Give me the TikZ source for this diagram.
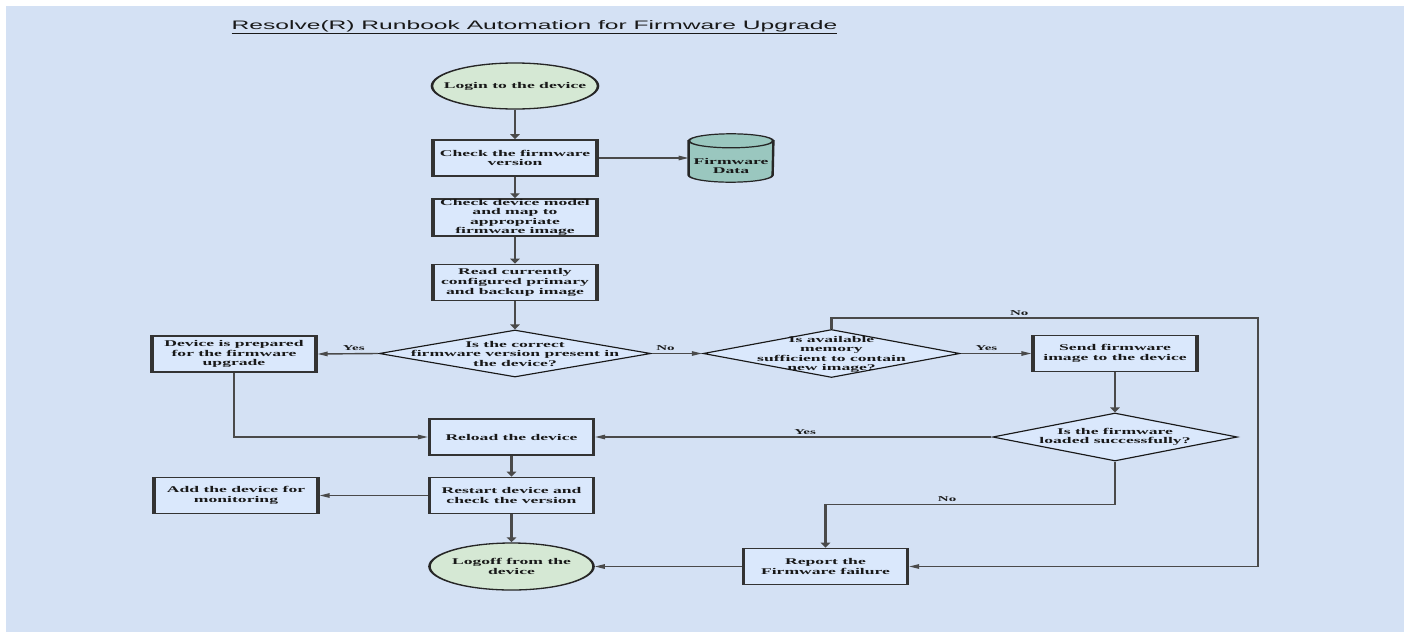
\documentclass[tikz,border=0pt]{standalone}
\usepackage{fontspec}
\setmainfont{Liberation Serif}
\setsansfont{Liberation Sans}
\usetikzlibrary{arrows.meta,shapes.geometric}

\definecolor{pagebg}{HTML}{D4E1F4}
\definecolor{boxfill}{HTML}{DAE8FC}
\definecolor{termfill}{HTML}{D5E8D4}
\definecolor{dbfill}{HTML}{9AC7BF}
\definecolor{linegray}{HTML}{4A4A4A}

\newcommand{\flowfont}{\fontsize{8.8}{9.6}\selectfont\bfseries}
\newcommand{\yesnofont}{\fontsize{7.5}{8}\selectfont\bfseries}
\newcommand{\headfont}{\sffamily\fontsize{12.3}{14}\selectfont}

\tikzset{
    stepbox/.style={draw=black!80, line width=1.6pt, fill=boxfill,
        minimum width=82pt, minimum height=36pt, inner sep=0pt,
        align=center, font=\flowfont, text=black!90},
    term/.style={ellipse, draw=black!85, line width=1.3pt, fill=termfill,
        minimum width=83pt, minimum height=46pt, inner sep=0pt},
    decision/.style={diamond, draw=black!90, line width=1.1pt, fill=boxfill,
        minimum width=136pt, minimum height=48pt, inner sep=0pt},
    store/.style={minimum width=42pt, minimum height=48pt, inner sep=0pt},
    dbshape/.style={draw=black!85, line width=1.2pt, fill=dbfill},
    flowtext/.style={align=center, font=\flowfont, text=black!90, inner sep=0pt},
    lbl/.style={font=\yesnofont, text=black!90, inner sep=2pt},
    flow/.style={draw=linegray, line width=1.4pt,
        -{Triangle[length=5pt,width=4.5pt]}}
}

\begin{document}
\begin{tikzpicture}[x=1pt,y=-1pt]
    % Page
    \fill[white] (0,0) rectangle (1404,632);
    \fill[pagebg] (6,6) rectangle (1404,632);
    \useasboundingbox (0,0) rectangle (1404,632);

    \begin{scope}[transform canvas={xscale=2}, x=0.5pt]
    % Title
    \node[anchor=base, font=\headfont, text=black!90] (title) at (534.5,29)
        {\underline{Resolve(R) Runbook Automation for Firmware Upgrade}};

    % Main column
    \node[term] (login) at (515,86) {};
    \node[flowtext] (logintext) at (login) {Login to the device};
    \node[stepbox] (checkfw) at (515,158) {Check the firmware\\version};
    % Firmware store (cylinder)
    \node[store] (fwdata) at (731,158) {};
    \draw[dbshape] ([yshift=-7pt]fwdata.north west) -- ([yshift=7pt]fwdata.south west)
        arc[start angle=180, end angle=360, x radius=21pt, y radius=7pt]
        -- ([yshift=-7pt]fwdata.north east) -- cycle;
    \draw[dbshape] ([yshift=-7pt]fwdata.north) ellipse [x radius=21pt, y radius=7pt];
    \node[flowtext] (fwdatatext) at (731,166) {Firmware\\Data};
    \node[stepbox] (model) at (515,217.5) {Check device model\\and map to\\appropriate\\firmware image};
    \node[stepbox] (readimg) at (515,282.5) {Read currently\\configured primary\\and backup image};

    % Decisions
    \node[decision, minimum height=47pt] (fwok) at (515,353.5) {};
    \node[flowtext] (fwoktext) at (515,354) {Is the correct\\firmware version present in\\the device?};
    \node[stepbox] (prepared) at (234,354) {Device is prepared\\for the firmware\\upgrade};
    \node[decision, minimum width=128.5pt] (memok) at (831.5,353.5) {};
    \node[flowtext] (memoktext) at (831.5,354.5) {Is available\\memory\\sufficient to contain\\new image?};
    \node[stepbox] (send) at (1115,353.5) {Send firmware\\image to the device};
    \node[decision, minimum width=122.5pt] (loadok) at (1115,437) {};
    \node[flowtext] (loadoktext) at (loadok) {Is the firmware\\loaded successfully?};

    % Lower part
    \node[stepbox] (reload) at (511.5,437) {Reload the device};
    \node[stepbox] (restart) at (511.5,495.5) {Restart device and\\check the version};
    \node[stepbox] (monitor) at (236,495.5) {Add the device for\\monitoring};
    \node[term, minimum width=82pt, minimum height=47pt] (logoff) at (511.5,566.5) {};
    \node[flowtext] (logofftext) at (logoff) {Logoff from the\\device};
    \node[stepbox] (report) at (825.5,566.5) {Report the\\Firmware failure};

    \coordinate (nocorner) at (1258,318);

    % Connectors
    \draw[flow] (login) -- (checkfw);
    \draw[flow] (checkfw) -- (fwdata);
    \draw[flow] (checkfw) -- (model);
    \draw[flow] (model) -- (readimg);
    \draw[flow] (readimg) -- (fwok);
    \draw[flow] (fwok.west) -- (prepared.east) node[lbl, pos=0.4, above] {Yes};
    \draw[flow] (fwok.east) -- (memok.west) node[lbl, pos=0.27, above] {No};
    \draw[flow] (memok.east) -- (send.west) node[lbl, pos=0.36, above] {Yes};
    \draw[flow] (memok.north) |- (nocorner) node[lbl, pos=0.72, above] {No} |- (report.east);
    \draw[flow] (send) -- (loadok);
    \draw[flow] (loadok.west) -- (reload.east) node[lbl, pos=0.47, above] {Yes};
    \draw[flow] (loadok.south) -- ++(0,43) -| (report.north) node[lbl, pos=0.29, above] {No};
    \draw[flow] (prepared.south) |- (reload.west);
    \draw[flow] (reload) -- (restart);
    \draw[flow] (restart) -- (logoff);
    \draw[flow] (restart.west) -- (monitor.east);
    \draw[flow] (report.west) -- (logoff.east);
    \end{scope}
\end{tikzpicture}
\end{document}
